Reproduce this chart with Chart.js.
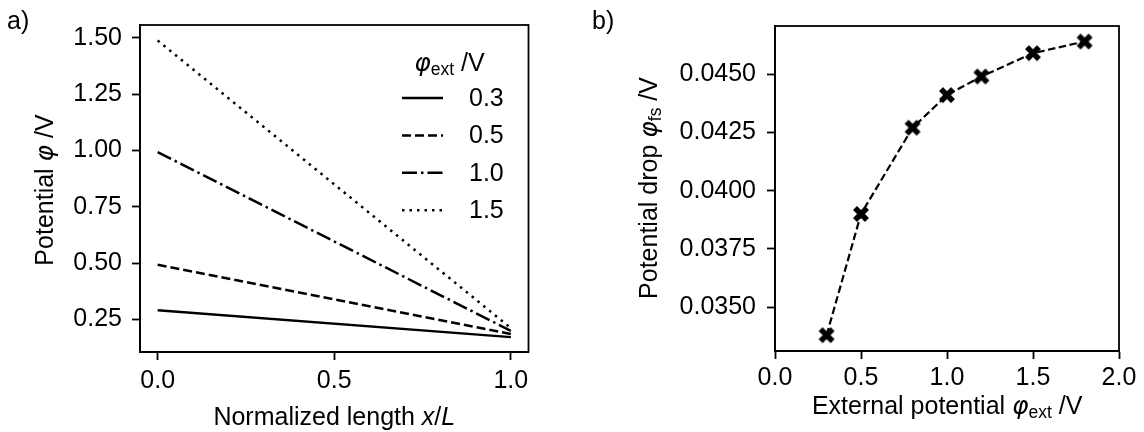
<!DOCTYPE html>
<html lang="en">
<head>
<meta charset="UTF-8">
<title>Potential</title>
<style>
    body { margin: 0; background: #fff; }
    .panel { position: absolute; top: 0; }
    #panelA { left: 0; }
    #panelB { left: 560px; }
</style>
</head>
<body>

<div class="panel" id="panelA"><canvas id="chartA" width="560" height="432"></canvas></div>
<div class="panel" id="panelB"><canvas id="chartB" width="584" height="432"></canvas></div>

<script src="https://cdn.jsdelivr.net/npm/chart.js"></script>
<script>
// a) potential along the normalized length, one line per external potential
const xNorm = [0, 1];
const extLabels = ['0.3', '0.5', '1.0', '1.5'];
const phi03 = [0.291, 0.172];
const phi05 = [0.493, 0.186];
const phi10 = [0.993, 0.200];
const phi15 = [1.488, 0.212];
const yTicksA = [0.25, 0.50, 0.75, 1.00, 1.25, 1.50];
const xTicksA = [0.0, 0.5, 1.0];

// b) potential drop vs external potential
const extPot = [0.3, 0.5, 0.8, 1.0, 1.2, 1.5, 1.8];
const potDrop = [0.0338, 0.0390, 0.0427, 0.0441, 0.0449, 0.0459, 0.0464];
const yTicksB = [0.0350, 0.0375, 0.0400, 0.0425, 0.0450];
const xTicksB = [0.0, 0.5, 1.0, 1.5, 2.0];

const FONT = '"Liberation Sans", Arial, sans-serif';
Chart.defaults.font.family = FONT;
Chart.defaults.font.size = 25;
Chart.defaults.color = '#000';

// text pieces: n normal, i italic, g greek (mathtext look), s subscript
const styles = {
    n: { font: '25px ' + FONT, dy: 0 },
    i: { font: 'italic 25px ' + FONT, dy: 0 },
    g: { font: 'italic 25px "DejaVu Sans"', dy: 0 },
    s: { font: '17.5px ' + FONT, dy: 4 }
};

function drawRich(ctx, item) {
    ctx.save();
    ctx.translate(item.x, item.y);
    if (item.rot) ctx.rotate(item.rot);
    let w = 0;
    item.parts.forEach(([t, st]) => { ctx.font = styles[st].font; w += ctx.measureText(t).width; });
    let x = item.align === 'left' ? 0 : -w / 2;
    ctx.fillStyle = '#000';
    ctx.textAlign = 'left';
    ctx.textBaseline = 'alphabetic';
    item.parts.forEach(([t, st]) => {
        ctx.font = styles[st].font;
        ctx.fillText(t, x, styles[st].dy);
        x += ctx.measureText(t).width;
    });
    ctx.restore();
}

const richText = {
    id: 'richText',
    afterDraw(chart, args, opts) {
        (opts.items || []).forEach(it => drawRich(chart.ctx, it));
    }
};

// full box round the plot, like matplotlib spines
const frame = {
    id: 'frame',
    afterDraw(chart) {
        const { left, top, right, bottom } = chart.chartArea;
        const ctx = chart.ctx;
        ctx.save();
        ctx.strokeStyle = '#000';
        ctx.lineWidth = 1.8;
        ctx.strokeRect(left, top, right - left, bottom - top);
        ctx.restore();
    }
};

// legend inside panel a
const lineLegend = {
    id: 'lineLegend',
    afterDraw(chart, args, opts) {
        const ctx = chart.ctx;
        drawRich(ctx, { x: opts.titleX, y: opts.titleY, parts: [['φ', 'g'], ['ext', 's'], [' /V', 'n']] });
        chart.data.datasets.forEach((ds, i) => {
            const y = opts.y + i * opts.step;
            ctx.save();
            ctx.strokeStyle = ds.borderColor;
            ctx.lineWidth = ds.borderWidth;
            ctx.setLineDash(ds.borderDash || []);
            ctx.beginPath();
            ctx.moveTo(opts.x, y);
            ctx.lineTo(opts.x + 41, y);
            ctx.stroke();
            ctx.restore();
            ctx.save();
            ctx.fillStyle = '#000';
            ctx.font = '25px ' + FONT;
            ctx.textBaseline = 'middle';
            ctx.fillText(ds.label, opts.x + 67, y + 1);
            ctx.restore();
        });
    }
};

function axis(min, max, ticks, digits, pad, fit) {
    return {
        type: 'linear',
        min: min,
        max: max,
        afterBuildTicks: s => { s.ticks = ticks.map(v => ({ value: v })); },
        afterFit: fit,
        ticks: { callback: v => v.toFixed(digits), padding: pad, color: '#000', maxRotation: 0, autoSkip: false },
        grid: { drawOnChartArea: false, drawTicks: true, tickLength: 8, tickWidth: 1.8, tickColor: '#000' },
        border: { display: true, color: '#000', width: 1.8 }
    };
}

// Panel a
const styleA = [
    { dash: [] },
    { dash: [9, 4] },
    { dash: [15, 4, 2.5, 4] },
    { dash: [2.5, 5] }
];
const seriesA = [phi03, phi05, phi10, phi15];

new Chart(document.getElementById('chartA'), {
    type: 'line',
    data: {
        datasets: seriesA.map((vals, i) => ({
            label: extLabels[i],
            data: xNorm.map((x, j) => ({ x: x, y: vals[j] })),
            borderColor: '#000',
            borderWidth: 2.5,
            borderDash: styleA[i].dash,
            borderCapStyle: 'butt',
            pointRadius: 0,
            tension: 0
        }))
    },
    options: {
        responsive: false,
        animation: false,
        layout: { padding: { left: 0, top: 22, right: 31.5, bottom: 0 } },
        scales: {
            x: axis(-0.05, 1.05, xTicksA, 1, 6, s => { s.height = 80; }),
            y: axis(0.106, 1.557, yTicksA, 2, 10, s => { s.width = 140; })
        },
        plugins: {
            legend: { display: false },
            tooltip: { enabled: false },
            lineLegend: { x: 402, y: 98, step: 37.4, titleX: 449.5, titleY: 71 },
            richText: {
                items: [
                    { x: 7, y: 28.5, align: 'left', parts: [['a)', 'n']] },
                    { x: 53, y: 190, rot: -Math.PI / 2, parts: [['Potential ', 'n'], ['φ', 'g'], [' /V', 'n']] },
                    { x: 334.3, y: 425, parts: [['Normalized length ', 'n'], ['x', 'i'], ['/', 'n'], ['L', 'i']] }
                ]
            }
        }
    },
    plugins: [frame, lineLegend, richText]
});

// Panel b: thick filled X marker
const xMark = document.createElement('canvas');
xMark.width = 18;
xMark.height = 18;
(function () {
    const c = xMark.getContext('2d');
    c.strokeStyle = '#000';
    c.lineWidth = 5.6;
    c.lineCap = 'butt';
    c.beginPath();
    c.moveTo(3, 3); c.lineTo(15, 15);
    c.moveTo(15, 3); c.lineTo(3, 15);
    c.stroke();
})();

new Chart(document.getElementById('chartB'), {
    type: 'line',
    data: {
        datasets: [{
            label: 'Potential drop',
            data: extPot.map((x, i) => ({ x: x, y: potDrop[i] })),
            borderColor: '#000',
            borderWidth: 2.2,
            borderDash: [7.5, 3.5],
            pointStyle: xMark,
            pointRadius: 9,
            tension: 0
        }]
    },
    options: {
        responsive: false,
        animation: false,
        layout: { padding: { left: 0, top: 22, right: 25, bottom: 0 } },
        scales: {
            x: axis(0, 2, xTicksB, 1, 4, s => { s.height = 81; }),
            y: axis(0.03312, 0.047066, yTicksB, 4, 11, s => { s.width = 215; })
        },
        plugins: {
            legend: { display: false },
            tooltip: { enabled: false },
            richText: {
                items: [
                    { x: 32, y: 28.5, align: 'left', parts: [['b)', 'n']] },
                    { x: 96.5, y: 188, rot: -Math.PI / 2, parts: [['Potential drop ', 'n'], ['φ', 'g'], ['fs', 's'], [' /V', 'n']] },
                    { x: 387.2, y: 414, parts: [['External potential ', 'n'], ['φ', 'g'], ['ext', 's'], [' /V', 'n']] }
                ]
            }
        }
    },
    plugins: [frame, richText]
});
</script>

</body>
</html>
